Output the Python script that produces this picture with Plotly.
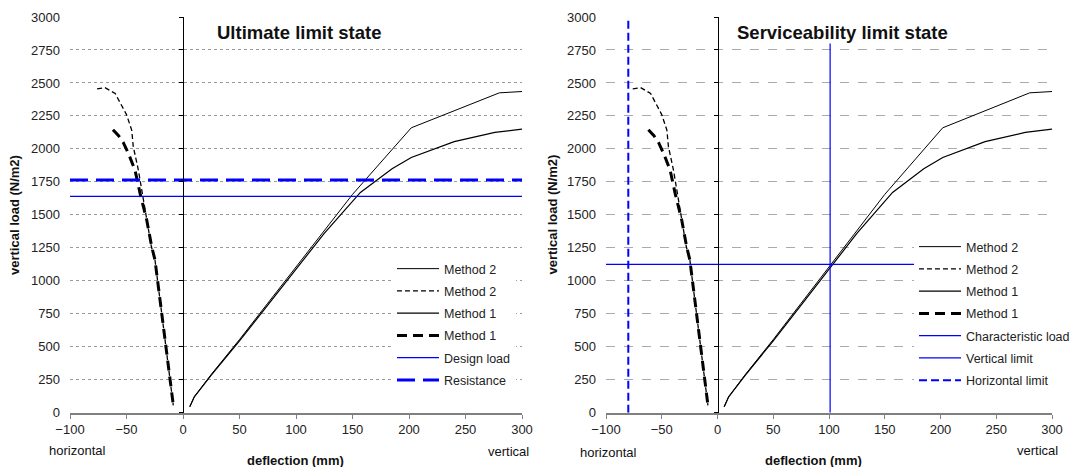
import plotly.graph_objects as go

# ---------------- data ----------------
# vertical deflection curves (positive x)
m2_vert_x = [6, 10, 25, 50, 75, 100, 125, 150, 202, 240, 280, 300]
m2_vert_y = [45, 120, 290, 555, 830, 1105, 1385, 1655, 2160, 2290, 2425, 2435]
m1_vert_x = [6, 10, 25, 50, 75, 100, 125, 157, 185, 202, 240, 276, 300]
m1_vert_y = [45, 120, 285, 545, 815, 1085, 1360, 1670, 1850, 1935, 2055, 2125, 2150]
# horizontal deflection curves (negative x)
m2_hor_x = [-76, -69, -60, -50, -45.4, -44, -39.5, -36, -32, -28, -24.8, -20.4, -16, -13, -11.5, -8.6]
m2_hor_y = [2455, 2465, 2420, 2260, 2143, 2017, 1840, 1665, 1460, 1260, 1158, 855, 550, 350, 250, 55]
m1_hor_x = [-62, -57, -52.8, -48.4, -42.5, -38, -32.1, -27.7, -24.8, -20.4, -15.9, -13, -11.5, -8.6]
m1_hor_y = [2145, 2100, 2047, 1967, 1840, 1663, 1461, 1259, 1158, 854, 551, 349, 248, 58]

design_load = 1640
resistance = 1765
characteristic_load = 1125
vertical_limit_x = 101
vertical_limit_top = 2800
horizontal_limit_x = -80

x_range = [-100, 300]
y_range = [0, 3000]
x_ticks = [-100, -50, 0, 50, 100, 150, 200, 250, 300]
y_ticks = [0, 250, 500, 750, 1000, 1250, 1500, 1750, 2000, 2250, 2500, 2750, 3000]

W, H = 1082, 467
FONT = "Liberation Sans, Arial, sans-serif"
BLUE = "#0000FF"

xdom1 = [70 / W, 522 / W]
xdom2 = [606 / W, 1052 / W]
ydom = [1 - 412.7 / H, 1 - 17 / H]

fig = go.Figure()


def add_panel(xa, ya, leg):
    fig.add_trace(go.Scatter(x=m2_vert_x, y=m2_vert_y, mode="lines", name="Method 2",
                             line=dict(color="black", width=1), xaxis=xa, yaxis=ya,
                             legend=leg, legendgroup=leg + "a"))
    fig.add_trace(go.Scatter(x=m2_hor_x, y=m2_hor_y, mode="lines", name="Method 2",
                             line=dict(color="black", width=1.3, dash="5px,3px"), xaxis=xa, yaxis=ya,
                             legend=leg, legendgroup=leg + "b"))
    fig.add_trace(go.Scatter(x=m1_vert_x, y=m1_vert_y, mode="lines", name="Method 1",
                             line=dict(color="black", width=1.2), xaxis=xa, yaxis=ya,
                             legend=leg, legendgroup=leg + "c"))
    fig.add_trace(go.Scatter(x=m1_hor_x, y=m1_hor_y, mode="lines", name="Method 1",
                             line=dict(color="black", width=3, dash="10px,6px"), xaxis=xa, yaxis=ya,
                             legend=leg, legendgroup=leg + "d"))


# left panel
add_panel("x", "y", "legend")
fig.add_trace(go.Scatter(x=x_range, y=[design_load, design_load], mode="lines", name="Design load",
                         line=dict(color=BLUE, width=1.2), xaxis="x", yaxis="y",
                         legend="legend", legendgroup="legende"))
fig.add_trace(go.Scatter(x=x_range, y=[resistance, resistance], mode="lines", name="Resistance",
                         line=dict(color=BLUE, width=3, dash="18px,8px"), xaxis="x", yaxis="y",
                         legend="legend", legendgroup="legendf"))

# right panel
add_panel("x2", "y2", "legend2")
fig.add_trace(go.Scatter(x=x_range, y=[characteristic_load, characteristic_load], mode="lines",
                         name="Characteristic load", line=dict(color=BLUE, width=1.2),
                         xaxis="x2", yaxis="y2", legend="legend2", legendgroup="legend2e"))
fig.add_trace(go.Scatter(x=[vertical_limit_x, vertical_limit_x], y=[0, vertical_limit_top], mode="lines",
                         name="Vertical limit", line=dict(color=BLUE, width=1.2),
                         xaxis="x2", yaxis="y2", legend="legend2", legendgroup="legend2f"))
fig.add_trace(go.Scatter(x=[horizontal_limit_x, horizontal_limit_x], y=y_range, mode="lines",
                         name="Horizontal limit", line=dict(color=BLUE, width=2, dash="8px,4px"),
                         xaxis="x2", yaxis="y2", legend="legend2", legendgroup="legend2g"))

# dummy traces so the zero-line axes render
fig.add_trace(go.Scatter(x=[None], y=[None], xaxis="x", yaxis="y3", showlegend=False))
fig.add_trace(go.Scatter(x=[None], y=[None], xaxis="x2", yaxis="y4", showlegend=False))

tickfont = dict(family=FONT, size=13, color="#222222")


def xaxis_cfg(dom, anchor):
    return dict(domain=dom, anchor=anchor, range=x_range, tickvals=x_ticks, showgrid=False,
                zeroline=False, showline=True, linecolor="#808080", linewidth=2,
                ticks="outside", ticklen=4, tickcolor="#808080", tickfont=tickfont,
                automargin=False)


def yaxis_cfg(anchor, griddash, gridcolor):
    return dict(domain=ydom, anchor=anchor, range=y_range, tickvals=y_ticks, showgrid=True,
                gridcolor=gridcolor, griddash=griddash, gridwidth=1, zeroline=False,
                showline=False, ticks="", tickfont=tickfont, ticklabelstandoff=9,
                automargin=False)


def zero_axis(over, pos):
    return dict(overlaying=over, anchor="free", position=pos, range=y_range, tickvals=y_ticks,
                showgrid=False, zeroline=False, showline=True, linecolor="black", linewidth=1,
                ticks="outside", ticklen=4, tickcolor="black", showticklabels=False,
                automargin=False)


pos1 = xdom1[0] + 0.25 * (xdom1[1] - xdom1[0])
pos2 = xdom2[0] + 0.25 * (xdom2[1] - xdom2[0])

legfont = dict(family=FONT, size=12.5, color="#222222")


def ann(text, x, y, size=13, angle=0):
    return dict(text=text, x=x / W, y=1 - y / H, xref="paper", yref="paper", xanchor="center",
                yanchor="middle", showarrow=False, textangle=angle,
                font=dict(family=FONT, size=size, color="#111111"))


fig.update_layout(
    template="none",
    width=W, height=H,
    margin=dict(l=0, r=0, t=0, b=0, autoexpand=False),
    paper_bgcolor="white", plot_bgcolor="white",
    showlegend=True,
    xaxis=xaxis_cfg(xdom1, "y"),
    yaxis=yaxis_cfg("x", "dot", "#9a9a9a"),
    xaxis2=xaxis_cfg(xdom2, "y2"),
    yaxis2=yaxis_cfg("x2", "dash", "#aaaaaa"),
    yaxis3=zero_axis("y", pos1),
    yaxis4=zero_axis("y2", pos2),
    legend=dict(x=392 / W, y=1 - 254 / H, xanchor="left", yanchor="top", bgcolor="white",
                font=legfont, tracegroupgap=3, borderwidth=0, itemwidth=42),
    legend2=dict(x=914 / W, y=1 - 232 / H, xanchor="left", yanchor="top", bgcolor="white",
                 font=legfont, tracegroupgap=3, borderwidth=0, itemwidth=42),
    annotations=[
        ann("<b>Ultimate limit state</b>", 299, 32.5, size=18.5),
        ann("<b>Serviceability limit state</b>", 842.5, 33, size=18.5),
        ann("horizontal", 77, 450.5),
        ann("vertical", 508, 451),
        ann("<b>deflection (mm)</b>", 295, 460),
        ann("horizontal", 608, 452),
        ann("vertical", 1037.5, 450.5),
        ann("<b>deflection (mm)</b>", 813, 460),
        ann("<b>vertical load (N/m2)</b>", 15, 215, angle=-90),
        ann("<b>vertical load (N/m2)</b>", 552.5, 215, angle=-90),
    ],
)

fig.write_html("out.html", config={"displayModeBar": False},
               post_script="document.body.style.margin='0px';")
